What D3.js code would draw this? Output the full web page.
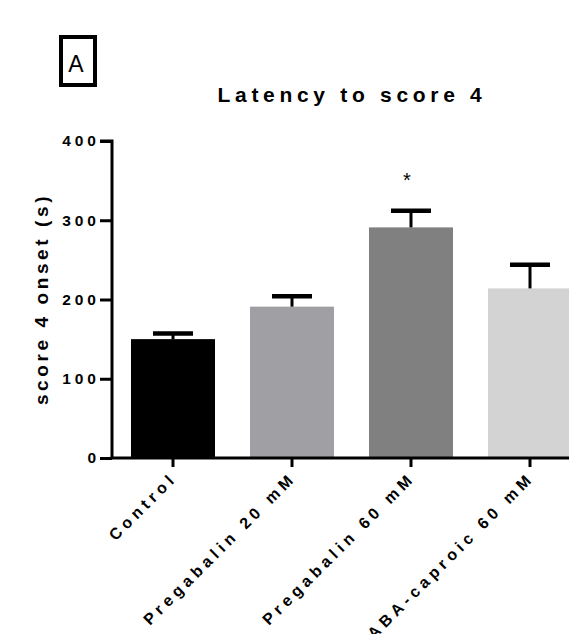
<!DOCTYPE html>
<html>
<head>
<meta charset="utf-8">
<script src="https://cdn.jsdelivr.net/npm/d3@7"></script>
<style>
  html, body { margin: 0; padding: 0; background: #fff; }
  svg { display: block; }
  text { font-family: "Liberation Sans", Arial, Helvetica, sans-serif; }
</style>
</head>
<body>
<svg id="chart" width="569" height="634"></svg>
<script>
const categories = ["Control", "Pregabalin 20 mM", "Pregabalin 60 mM", "ABA-caproic 60 mM"];
const means = [150, 191, 291, 214];
const errors = [7, 13, 21, 30];
const colors = ["#000000", "#a09fa4", "#808080", "#d3d3d3"];
const significance = ["", "", "*", ""];
const yTicks = [0, 100, 200, 300, 400];
const title = "Latency to score 4";
const yLabel = "score 4 onset (s)";
const panelLabel = "A";

const svg = d3.select("#chart");

const axisX = 112, axisY = 458;
const y = d3.scaleLinear().domain([0, 400]).range([458, 141]);
const x = d3.scaleBand().domain(categories).range([113.5, 589.5]).paddingInner(0.294).paddingOuter(0.147);

// bars
svg.append("g").selectAll("rect").data(categories).join("rect")
  .attr("x", d => x(d))
  .attr("y", (d, i) => y(means[i]))
  .attr("width", x.bandwidth())
  .attr("height", (d, i) => y(0) - y(means[i]))
  .attr("fill", (d, i) => colors[i]);

// error bars
const eb = svg.append("g").selectAll("g").data(categories).join("g");
eb.append("line")
  .attr("x1", d => x(d) + x.bandwidth() / 2)
  .attr("x2", d => x(d) + x.bandwidth() / 2)
  .attr("y1", (d, i) => y(means[i]))
  .attr("y2", (d, i) => y(means[i] + errors[i]))
  .attr("stroke", "#000").attr("stroke-width", 3);
eb.append("line")
  .attr("x1", d => x(d) + x.bandwidth() / 2 - 20)
  .attr("x2", d => x(d) + x.bandwidth() / 2 + 20)
  .attr("y1", (d, i) => y(means[i] + errors[i]))
  .attr("y2", (d, i) => y(means[i] + errors[i]))
  .attr("stroke", "#000").attr("stroke-width", 4.5);

// significance marks
svg.append("g").selectAll("text").data(categories).join("text")
  .attr("x", d => x(d) + x.bandwidth() / 2 - 4)
  .attr("y", (d, i) => y(means[i] + errors[i]) - 24)
  .attr("text-anchor", "middle")
  .attr("font-size", 20)
  .attr("fill", "#000")
  .text((d, i) => significance[i]);

// y axis
const yAxis = d3.axisLeft(y).tickValues(yTicks).tickSize(12).tickPadding(0);
const gy = svg.append("g").attr("transform", `translate(${axisX},0)`).call(yAxis);
gy.select(".domain").attr("d", `M-12,${y(400)}H0V${y(0)}`).attr("stroke-width", 3);
gy.selectAll(".tick line").attr("stroke-width", 3);
gy.selectAll(".tick text")
  .attr("font-size", 15.5).attr("font-weight", "bold")
  .attr("letter-spacing", "4px")
  .attr("font-family", "Liberation Sans, Arial, sans-serif")
  .attr("fill", "#000");

// x axis
const xAxis = d3.axisBottom(x).tickSize(9).tickFormat("");
const gx = svg.append("g").attr("transform", `translate(0,${axisY})`).call(xAxis);
gx.select(".domain").attr("d", `M${axisX - 1.5},0H569`).attr("stroke-width", 3);
gx.selectAll(".tick line").attr("stroke-width", 3);

// x labels rotated
svg.append("g").selectAll("text").data(categories).join("text")
  .attr("transform", d => `translate(${x(d) + x.bandwidth() / 2 + 5},${axisY + 21}) rotate(-45)`)
  .attr("text-anchor", "end")
  .attr("font-size", 16).attr("font-weight", "bold")
  .attr("letter-spacing", "4.5px")
  .attr("fill", "#000")
  .text(d => d);

// y label
svg.append("text")
  .attr("transform", `translate(48,299) rotate(-90)`)
  .attr("text-anchor", "middle")
  .attr("font-size", 19).attr("font-weight", "bold")
  .attr("letter-spacing", "3.6px")
  .attr("fill", "#000")
  .text(yLabel);

// title
svg.append("text")
  .attr("x", 352).attr("y", 102)
  .attr("text-anchor", "middle")
  .attr("font-size", 21).attr("font-weight", "bold")
  .attr("letter-spacing", "4.7px")
  .attr("fill", "#000")
  .text(title);

// panel label
svg.append("rect")
  .attr("x", 61).attr("y", 37).attr("width", 34).attr("height", 48)
  .attr("fill", "none").attr("stroke", "#000").attr("stroke-width", 4);
svg.append("text")
  .attr("x", 76).attr("y", 72)
  .attr("text-anchor", "middle")
  .attr("font-size", 23)
  .attr("fill", "#000")
  .text(panelLabel);
</script>
</body>
</html>
